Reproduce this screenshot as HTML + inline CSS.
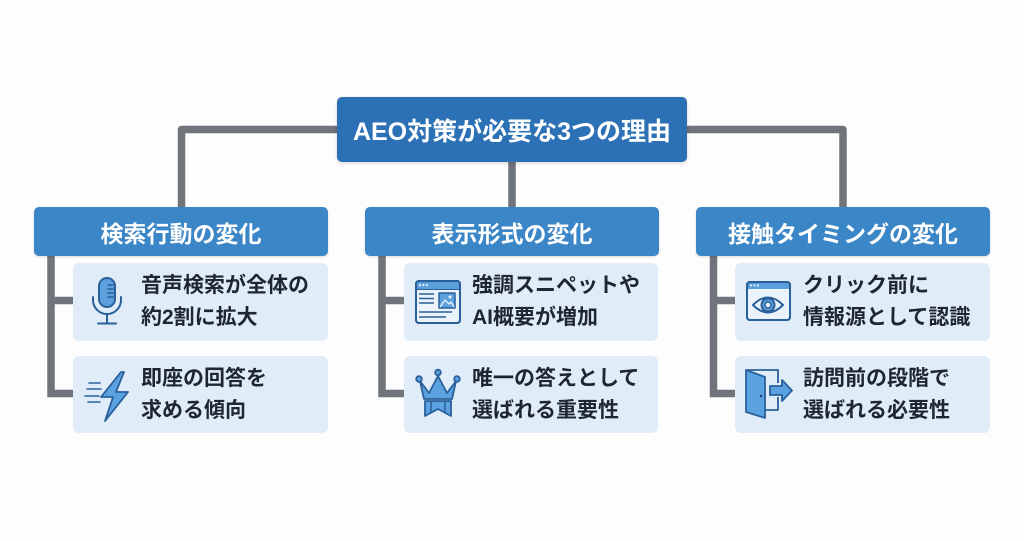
<!DOCTYPE html>
<html lang="ja">
<head>
<meta charset="utf-8">
<style>
  html,body{margin:0;padding:0;}
  body{width:1024px;height:541px;background:#fdfdfe;position:relative;overflow:hidden;
       font-family:"Liberation Sans","Noto Sans CJK JP",sans-serif;}
  .box{position:absolute;box-sizing:border-box;display:flex;align-items:center;justify-content:center;color:#fff;font-weight:bold;}
  .top{left:337px;top:97px;width:350px;height:65px;background:#2c71b6;border-radius:5px;font-size:25px;
       box-shadow:0 1px 3px rgba(0,0,0,.18);}
  .cat{top:207px;width:294px;height:49px;background:#3b86c7;border-radius:5px;font-size:23px;
       box-shadow:0 1px 2px rgba(0,0,0,.15);}
  .item{position:absolute;box-sizing:border-box;background:#e0edf9;border-radius:6px;
        display:flex;align-items:center;padding-left:68px;font-size:21px;line-height:32px;
        font-weight:bold;color:#1e2731;}
  svg{position:absolute;left:0;top:0;}
</style>
</head>
<body>
<svg width="1024" height="541" viewBox="0 0 1024 541">
  <g fill="none" stroke="#6f757b" stroke-width="7.5" stroke-linejoin="round">
    <path d="M337 129.5 H181.5 V207"/>
    <path d="M687 129.5 H843 V207"/>
    <path d="M512 162 V207"/>
    <path d="M51 256 V393.5 H73" stroke-linejoin="miter"/>
    <path d="M51 300.5 H73"/>
    <path d="M382 256 V393.5 H404" stroke-linejoin="miter"/>
    <path d="M382 300.5 H404"/>
    <path d="M713.5 256 V393.5 H735" stroke-linejoin="miter"/>
    <path d="M713.5 300.5 H735"/>
  </g>
</svg>

<div class="box top">AEO対策が必要な3つの理由</div>
<div class="box cat" style="left:34px;">検索行動の変化</div>
<div class="box cat" style="left:365px;">表示形式の変化</div>
<div class="box cat" style="left:696px;">接触タイミングの変化</div>

<div class="item" style="left:73px;top:263px;width:255px;height:78px;"><div>音声検索が全体の<br>約2割に拡大</div></div>
<div class="item" style="left:73px;top:356px;width:255px;height:77px;"><div>即座の回答を<br>求める傾向</div></div>
<div class="item" style="left:404px;top:263px;width:254px;height:78px;"><div>強調スニペットや<br>AI概要が増加</div></div>
<div class="item" style="left:404px;top:356px;width:254px;height:77px;"><div>唯一の答えとして<br>選ばれる重要性</div></div>
<div class="item" style="left:735px;top:263px;width:255px;height:78px;"><div>クリック前に<br>情報源として認識</div></div>
<div class="item" style="left:735px;top:356px;width:255px;height:77px;"><div>訪問前の段階で<br>選ばれる必要性</div></div>

<svg width="1024" height="541" viewBox="0 0 1024 541">
  <!-- Microphone -->
  <g stroke="#2a609a" stroke-width="2" stroke-linecap="round" fill="none">
    <rect x="99" y="278" width="16" height="29" rx="8" fill="#5b9fdc"/>
    <path d="M108 285 H113 M108 289 H113 M108 293 H113 M108 297 H113" stroke-width="1.6"/>
    <path d="M93 297 V300 A14 14 0 0 0 121 300 V297"/>
    <path d="M107 314 V323"/>
    <path d="M98 323.5 H116"/>
  </g>
  <!-- Lightning -->
  <g stroke="#2a609a" stroke-width="1.8" stroke-linejoin="round" stroke-linecap="round">
    <path d="M121 372 L101 397 L113 397 L105 421 L128 392 L116 392 L124 372 Z" fill="#5ba3e0"/>
    <path d="M89 383 H100 M87 389 H101 M85 396 H99 M88 402 H100" fill="none" stroke-width="1.6"/>
  </g>
  <!-- Browser with image -->
  <g stroke="#2a609a" stroke-width="2" stroke-linejoin="round">
    <rect x="416" y="281" width="44" height="42" rx="3" fill="#eaf3fc"/>
    <path d="M416 289 H460" />
    <rect x="416" y="281" width="44" height="8" rx="2" fill="#5b9fdc" stroke="none"/>
    <rect x="416" y="281" width="44" height="42" rx="3" fill="none"/>
    <circle cx="420" cy="285" r="1" fill="#fff" stroke="none"/>
    <circle cx="423.5" cy="285" r="1" fill="#fff" stroke="none"/>
    <circle cx="427" cy="285" r="1" fill="#fff" stroke="none"/>
    <path d="M419 294 H434 M419 298.5 H434 M419 303 H434 M419 312 H452 M419 317 H446" stroke-width="1.5" fill="none"/>
    <rect x="439" y="293" width="16" height="15" fill="#5b9fdc" stroke-width="1.5"/>
    <path d="M440 307 L445 300 L449 304 L451 302 L454 307" fill="none" stroke="#eaf3fc" stroke-width="1.3"/>
    <circle cx="450" cy="297" r="1.5" fill="#eaf3fc" stroke="none"/>
  </g>
  <!-- Crown -->
  <g stroke="#2a609a" stroke-width="1.8" stroke-linejoin="round">
    <path d="M420 381 L429 393 L438 376 L447 393 L456 381 L452 399 L424 399 Z" fill="#5ba3e0"/>
    <circle cx="419" cy="379" r="2.8" fill="#5ba3e0"/>
    <circle cx="438" cy="372.5" r="2.8" fill="#5ba3e0"/>
    <circle cx="457" cy="379" r="2.8" fill="#5ba3e0"/>
    <path d="M425 401 H451 V416 L438 409 L425 416 Z" fill="#5ba3e0"/>
    <path d="M431 401 V412 M445 401 V412" fill="none" stroke-width="1.5"/>
  </g>
  <!-- Browser with eye -->
  <g stroke="#2a609a" stroke-width="2" stroke-linejoin="round">
    <rect x="747" y="282" width="43" height="38" rx="3" fill="#eaf3fc"/>
    <rect x="747" y="282" width="43" height="7" rx="2" fill="#5b9fdc" stroke="none"/>
    <rect x="747" y="282" width="43" height="38" rx="3" fill="none"/>
    <circle cx="751" cy="285.5" r="1" fill="#fff" stroke="none"/>
    <circle cx="754.5" cy="285.5" r="1" fill="#fff" stroke="none"/>
    <circle cx="758" cy="285.5" r="1" fill="#fff" stroke="none"/>
    <path d="M753 305 Q768 290 783 305 Q768 320 753 305 Z" fill="#eaf3fc"/>
    <circle cx="768" cy="305" r="6.5" fill="#5b9fdc"/>
    <circle cx="768" cy="305" r="3" fill="#eaf3fc" stroke-width="1.5"/>
  </g>
  <!-- Door -->
  <g stroke="#2a609a" stroke-width="1.8" stroke-linejoin="round">
    <path d="M746 370 H778 V383 M778 397 V410 H765" fill="none"/>
    <path d="M746 370 L765 377 L765 418 L746 412 Z" fill="#5ba3e0"/>
    <circle cx="761" cy="396" r="1.2" fill="#1e3f66" stroke="none"/>
    <path d="M770 386 H782 V380 L792 390.5 L782 401 V395 H770 Z" fill="#5ba3e0"/>
  </g>
</svg>
</body>
</html>
